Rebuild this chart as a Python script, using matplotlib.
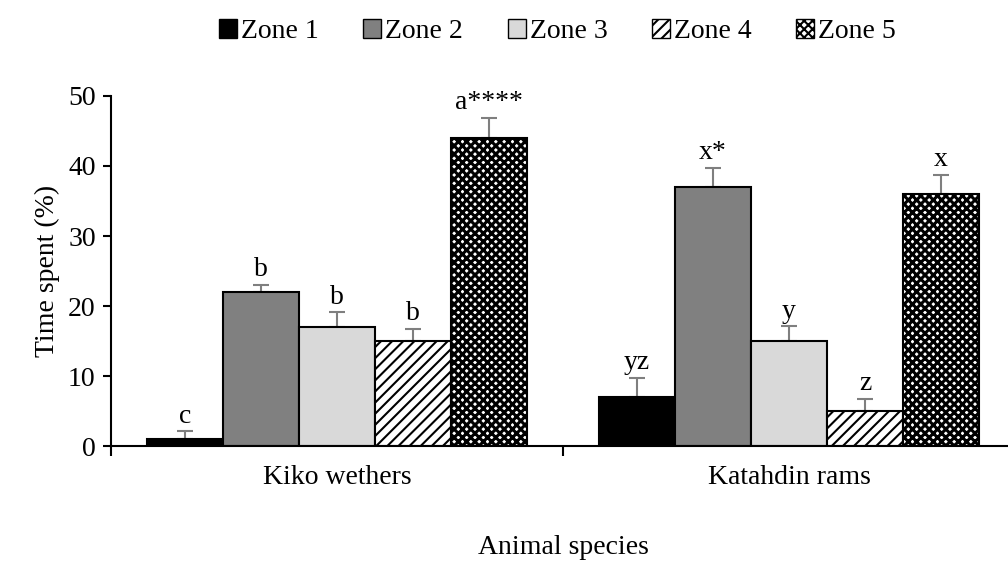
import numpy as np
import matplotlib
matplotlib.use("Agg")
from matplotlib import pyplot as plt
from matplotlib.patches import Patch

plt.rcParams['font.family'] = ['Liberation Serif', 'DejaVu Serif']
plt.rcParams['hatch.linewidth'] = 1.5

species = ["Kiko wethers", "Katahdin rams"]
zones = ["Zone 1", "Zone 2", "Zone 3", "Zone 4", "Zone 5"]
# mean time spent (%) per zone, one list per species
kiko = [1, 22, 17, 15, 44]
katahdin = [7, 37, 15, 5, 36]
kiko_err = [1.1, 1.0, 2.1, 1.7, 2.9]
katahdin_err = [2.7, 2.7, 2.1, 1.7, 2.7]
kiko_letters = ["c", "b", "b", "b", "a****"]
katahdin_letters = ["yz", "x*", "y", "z", "x"]

faces = ["black", "#808080", "#d9d9d9", "white", "white"]
hatches = [None, None, None, "///", "xxxx"]
hatch_lw = [1.5, 1.5, 1.5, 1.5, 2.2]
fs = 20

fig = plt.figure(figsize=(10.08, 5.63), dpi=100)
ax = fig.add_axes([111 / 1008, 117 / 563, 904 / 1008, 350 / 563])

values = np.array([kiko, katahdin])
errors = np.array([kiko_err, katahdin_err])
letters = [kiko_letters, katahdin_letters]
x = np.arange(len(species))
width = 0.168

for i, zone in enumerate(zones):
    pos = x + (i - 2) * width
    with plt.rc_context({'hatch.linewidth': hatch_lw[i]}):
        bars = ax.bar(pos, values[:, i], width, color=faces[i], edgecolor="black",
                      linewidth=1.5, hatch=hatches[i], zorder=2)
    for b in bars:
        if hasattr(b, "set_hatch_linewidth"):
            b.set_hatch_linewidth(hatch_lw[i])
    ax.errorbar(pos, values[:, i], yerr=[np.zeros(2), errors[:, i]], fmt="none",
                ecolor="#7f7f7f", elinewidth=1.5, capsize=6, capthick=1.5, zorder=1)
    for j in range(len(species)):
        ax.annotate(letters[j][i], (pos[j], values[j, i] + errors[j, i]),
                    xytext=(0, 2), textcoords="offset points",
                    ha="center", va="bottom", fontsize=fs)

ax.set_xlim(-0.5, 1.5)
ax.set_ylim(0, 50)
ax.set_yticks(range(0, 51, 10))
ax.set_xticks([-0.5, 0.5, 1.5])
ax.set_xticklabels([])
ax.set_xticks(x, minor=True)
ax.set_xticklabels(species, minor=True, fontsize=fs)
ax.tick_params(axis="x", which="minor", length=0, pad=14)
ax.tick_params(axis="x", which="major", length=7, width=1.5, direction="out")
ax.tick_params(axis="y", length=6, width=1.5, direction="out", labelsize=fs, pad=5)

for side in ["top", "right"]:
    ax.spines[side].set_visible(False)
for side in ["left", "bottom"]:
    ax.spines[side].set_linewidth(1.5)

ax.set_ylabel("Time spent (%)", fontsize=fs, labelpad=6)
ax.set_xlabel("Animal species", fontsize=fs)
ax.xaxis.set_label_coords(0.5, -0.29)
ax.xaxis.label.set_va("center")

handles = []
for i in range(len(zones)):
    with plt.rc_context({'hatch.linewidth': 1.0}):
        h = Patch(facecolor=faces[i], edgecolor="black", hatch=hatches[i],
                  linewidth=1.0, label=zones[i])
    handles.append(h)
fig.legend(handles=handles, loc="upper center", bbox_to_anchor=(0.553, 1.01),
           ncol=5, frameon=False, fontsize=fs, handlelength=0.65,
           handleheight=0.65, handletextpad=0.15, columnspacing=1.6)

fig.savefig("out.png", dpi=100)
